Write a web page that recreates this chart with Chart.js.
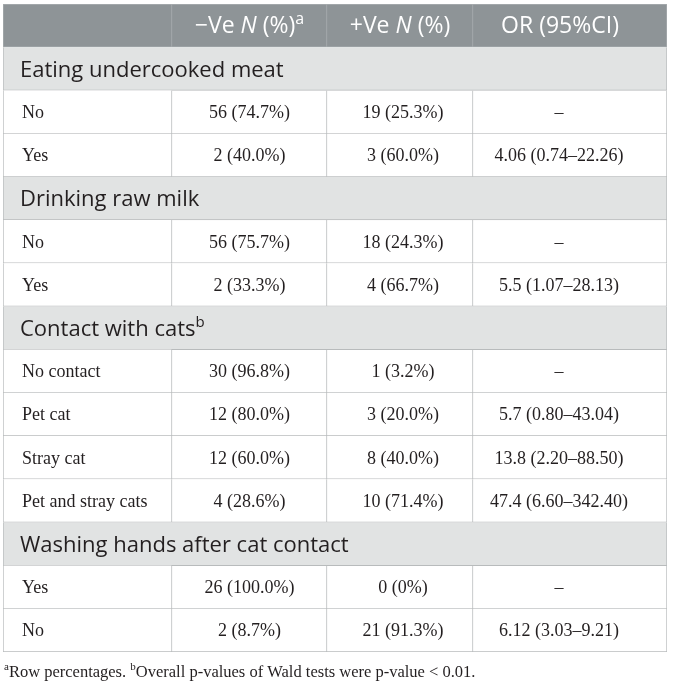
<!DOCTYPE html>
<html>
<head>
<meta charset="utf-8">
<script src="https://cdn.jsdelivr.net/npm/chart.js@4.4.1/dist/chart.umd.min.js"></script>
<style>
  html, body { margin: 0; padding: 0; background: #fff; }
  #wrap { width: 673px; height: 688px; }
</style>
</head>
<body>
<div id="wrap"><canvas id="tbl" width="673" height="688"></canvas></div>
<script>
// table content
const sections = ['Eating undercooked meat', 'Drinking raw milk', 'Contact with cats', 'Washing hands after cat contact']
const sectionNotes = ['', '', 'b', '']
const rowLabels = ['No', 'Yes', 'No', 'Yes', 'No contact', 'Pet cat', 'Stray cat', 'Pet and stray cats', 'Yes', 'No']
const rowSection = [0, 0, 1, 1, 2, 2, 2, 2, 3, 3]
const negN = [56, 2, 56, 2, 30, 12, 12, 4, 26, 2]
const negPct = ['74.7', '40.0', '75.7', '33.3', '96.8', '80.0', '60.0', '28.6', '100.0', '8.7']
const posN = [19, 3, 18, 4, 1, 3, 8, 10, 0, 21]
const posPct = ['25.3', '60.0', '24.3', '66.7', '3.2', '20.0', '40.0', '71.4', '0', '91.3']
const orEst = [null, '4.06', null, '5.5', null, '5.7', '13.8', '47.4', null, '6.12']
const ciLow = [null, '0.74', null, '1.07', null, '0.80', '2.20', '6.60', null, '3.03']
const ciHigh = [null, '22.26', null, '28.13', null, '43.04', '88.50', '342.40', null, '9.21']

// column edges in table units
const colEdges = [0, 169, 324, 470, 664]
// small nudges of centred text per column (body, header)
const bodyShift = [0, 0, 3, -11]
const headShift = [0, 0, 0, -10]

const SANS = '"Open Sans", "Noto Sans", sans-serif'
const SERIF = '"Liberation Serif", "DejaVu Serif", serif'
const HEAD_BG = '#8e9497'
const SECT_BG = '#e1e3e3'
const LINE = '#b8bbbc'
const HEAD_LINE = '#a9aeb0'
const INK = '#231f20'

// build row list: header, then section rows and their data rows
const rows = [{ kind: 'head', label: '' }]
sections.forEach((s, si) => {
  rows.push({ kind: 'sect', label: s, si })
  rowSection.forEach((sec, i) => {
    if (sec === si) rows.push({ kind: 'data', label: rowLabels[i], di: i })
  })
})

function pct(n, p) { return n + ' (' + p + '%)' }

function cellRuns(row, col) {
  if (row.kind === 'head') {
    if (col === 1) return [{ t: '\u2212Ve ' }, { t: 'N', it: true }, { t: ' (%)' }, { t: 'a', sup: true }]
    if (col === 2) return [{ t: '+Ve ' }, { t: 'N', it: true }, { t: ' (%)' }]
    if (col === 3) return [{ t: 'OR (95%CI)' }]
    return []
  }
  if (row.kind === 'sect') {
    const runs = [{ t: row.label }]
    if (sectionNotes[row.si]) runs.push({ t: sectionNotes[row.si], sup: true })
    return col === 0 ? runs : []
  }
  const i = row.di
  if (col === 0) return [{ t: row.label }]
  if (col === 1) return [{ t: pct(negN[i], negPct[i]) }]
  if (col === 2) return [{ t: pct(posN[i], posPct[i]) }]
  if (orEst[i] === null) return [{ t: '\u2013' }]
  return [{ t: orEst[i] + ' (' + ciLow[i] + '\u2013' + ciHigh[i] + ')' }]
}

function runFont(run, family, size) {
  const s = run.sup ? Math.round(size * 0.68) : size
  return (run.it ? 'italic ' : '') + s + 'px ' + family
}

function drawRuns(ctx, runs, x, y, align, family, size, color) {
  ctx.save()
  ctx.fillStyle = color
  ctx.textBaseline = 'alphabetic'
  let total = 0
  runs.forEach(r => { ctx.font = runFont(r, family, size); r.w = ctx.measureText(r.t).width; total += r.w })
  let cx = align === 'center' ? x - total / 2 : x
  runs.forEach(r => {
    ctx.font = runFont(r, family, size)
    ctx.fillText(r.t, cx, r.sup ? y - size * 0.4 : y)
    cx += r.w
  })
  ctx.restore()
}

const cellText = {
  id: 'cellText',
  afterDatasetsDraw(chart) {
    const ctx = chart.ctx
    chart.data.datasets.forEach((ds, col) => {
      chart.getDatasetMeta(col).data.forEach((bar, r) => {
        const row = rows[r]
        if (!row || ds.data[r] === null) return
        const runs = cellRuns(row, col)
        if (!runs.length) return
        const p = bar.getProps(['x', 'y', 'base'], true)
        const left = Math.min(p.x, p.base), right = Math.max(p.x, p.base)
        const mid = (left + right) / 2
        if (row.kind === 'head') {
          drawRuns(ctx, runs, mid + headShift[col], p.y + 7.5, 'center', SANS, 23, '#ffffff')
        } else if (row.kind === 'sect') {
          drawRuns(ctx, runs, left + 17, p.y + 8, 'left', SANS, 22, INK)
        } else if (col === 0) {
          drawRuns(ctx, runs, left + 19, p.y + 6, 'left', SERIF, 18, INK)
        } else {
          drawRuns(ctx, runs, mid + bodyShift[col], p.y + 6, 'center', SERIF, 18, INK)
        }
      })
    })
    // footnote under the table
    const y = chart.chartArea.bottom + 25
    drawRuns(ctx, [
      { t: 'a', sup: true }, { t: 'Row percentages. ' },
      { t: 'b', sup: true }, { t: 'Overall p-values of Wald tests were p-value < 0.01.' }
    ], 4, y, 'left', SERIF, 16.5, INK)
  }
}

const datasets = [0, 1, 2, 3].map(col => ({
  label: 'col' + col,
  data: rows.map(row => {
    if (row.kind === 'sect') return col === 0 ? [colEdges[0], colEdges[4]] : null
    return [colEdges[col], colEdges[col + 1]]
  }),
  backgroundColor: ctx => {
    const row = rows[ctx.dataIndex]
    return row.kind === 'head' ? HEAD_BG : row.kind === 'sect' ? SECT_BG : '#ffffff'
  },
  borderColor: ctx => {
    const row = rows[ctx.dataIndex]
    return row.kind === 'head' ? HEAD_LINE : LINE
  },
  borderWidth: ctx => ({
    left: col === 0 ? 1 : 0,
    top: ctx.dataIndex === 0 ? 1 : 0,
    right: 1,
    bottom: 1
  }),
  borderSkipped: false,
  grouped: false,
  barPercentage: 1,
  categoryPercentage: 1
}))

new Chart(document.getElementById('tbl'), {
  type: 'bar',
  data: { labels: rows.map(r => r.label), datasets },
  options: {
    indexAxis: 'y',
    responsive: false,
    animation: false,
    events: [],
    layout: { padding: { left: 3, top: 4, right: 6, bottom: 36 } },
    scales: {
      x: { type: 'linear', min: colEdges[0], max: colEdges[4], display: false },
      y: { type: 'category', offset: true, display: false }
    },
    plugins: { legend: { display: false }, tooltip: { enabled: false }, title: { display: false } }
  },
  plugins: [cellText]
})
</script>
</body>
</html>
